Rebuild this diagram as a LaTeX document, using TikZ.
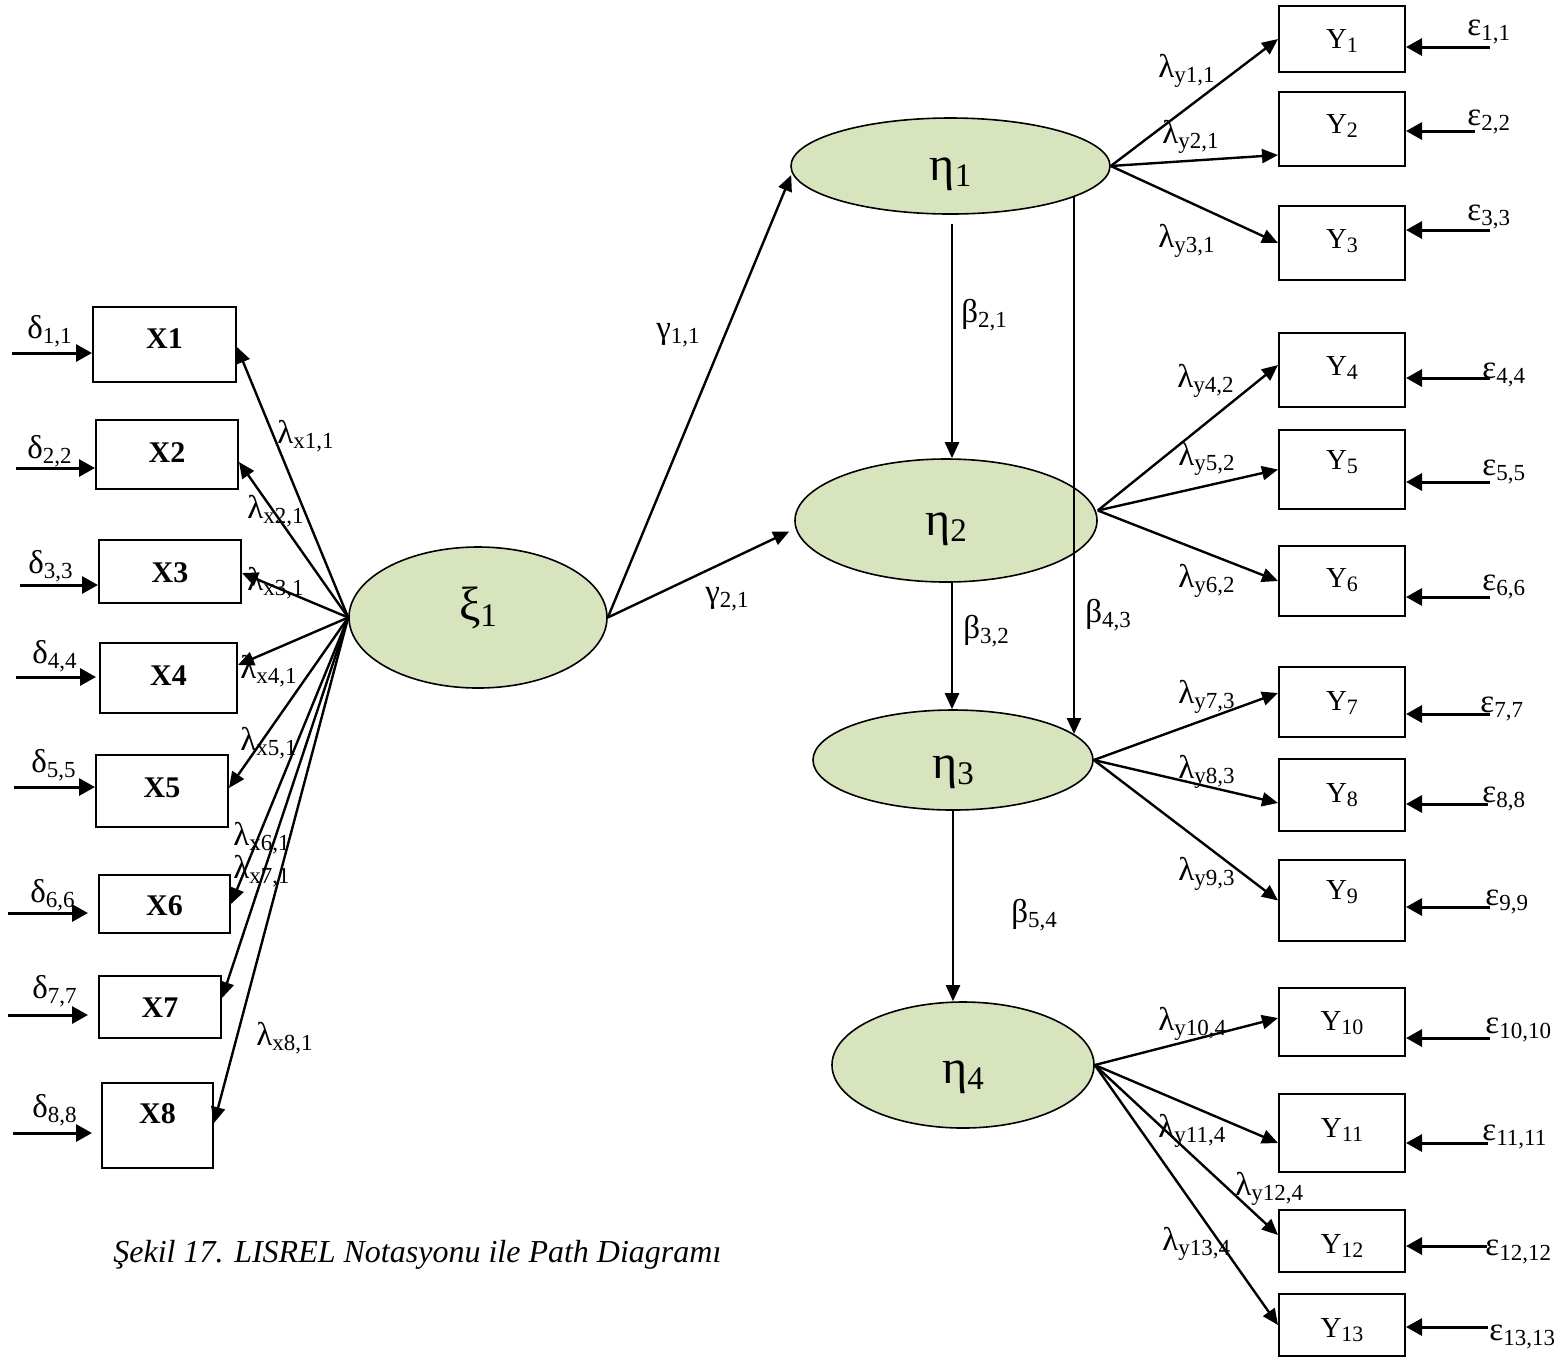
\documentclass[tikz,border=0pt]{standalone}
\usepackage{fontspec}
\setmainfont{Liberation Serif}
\usetikzlibrary{arrows.meta,calc,shapes.geometric}

\definecolor{latfill}{RGB}{215,228,189}

% symbol with a lowered index
\newcommand\pCoef[2]{{\fontsize{16.5pt}{17pt}\selectfont #1}\raisebox{-2.5pt}{\fontsize{11.5pt}{12pt}\selectfont #2}}
\newcommand\pLat[2]{{\fontsize{24pt}{25pt}\selectfont #1}\raisebox{-3pt}{\fontsize{16.5pt}{17pt}\selectfont #2}}
\newcommand\pInd[2]{{\fontsize{14.5pt}{15pt}\selectfont #1}\raisebox{-2pt}{\fontsize{11pt}{12pt}\selectfont #2}}
\newcommand\xname[1]{{\fontsize{15pt}{16pt}\selectfont\bfseries #1}}

% observed variable box: name, left, top, right, bottom, text baseline, text
\newcommand\obsbox[7]{%
  \pgfmathsetmacro\bw{(#4-#2)/2}%
  \pgfmathsetmacro\bh{(#6-#3)/2}%
  \pgfmathsetmacro\bd{(#5-#6)/2}%
  \pgfmathsetmacro\bx{(#2+#4)/2}%
  \node[obs, minimum width=\bw pt, text height=\bh pt, text depth=\bd pt] (#1) at (\bx,#6) {#7};}

\tikzset{
  obs/.style={draw, rectangle, line width=1pt, inner sep=0pt, anchor=base},
  lat/.style={draw, ellipse, line width=0.8pt, fill=latfill, inner sep=0pt, text depth=0pt},
  conn/.style={line width=1.2pt, -{Triangle[length=8pt,width=7pt]}},
  err/.style={line width=1.5pt, -{Triangle[length=8pt,width=8.5pt]}},
  lbl/.style={inner sep=0pt, anchor=base west},
}

\begin{document}
\begin{tikzpicture}[x=0.5pt,y=-0.5pt]
\useasboundingbox (0,0) rectangle (1558,1357);

% latent variables
\node[lat, minimum width=129pt, minimum height=70.5pt, text height=2.5pt] (xi) at (478,617.5) {\pLat{ξ}{1}};
\node[lat, minimum width=159.5pt, minimum height=48pt, text height=14pt] (eta1) at (950.5,166) {\pLat{η}{1}\hspace{6pt}};
\node[lat, minimum width=151pt, minimum height=61.5pt, text height=14.5pt] (eta2) at (946,520.5) {\pLat{η}{2}\hspace{11.5pt}};
\node[lat, minimum width=140pt, minimum height=50pt, text height=18pt] (eta3) at (953,760) {\pLat{η}{3}\hspace{11pt}};
\node[lat, minimum width=131pt, minimum height=63pt, text height=18pt] (eta4) at (963,1065) {\pLat{η}{4}\hspace{10pt}};

% exogenous indicators
\obsbox{X1}{93}{307}{236}{382}{348}{\xname{X1}}
\obsbox{X2}{96}{420}{238}{489}{462}{\xname{X2}}
\obsbox{X3}{99}{540}{241}{603}{582}{\xname{X3}}
\obsbox{X4}{100}{643}{237}{713}{685}{\xname{X4}}
\obsbox{X5}{96}{755}{228}{827}{797}{\xname{X5}}
\obsbox{X6}{99}{875}{230}{933}{915}{\xname{X6}}
\obsbox{X7}{99}{976}{221}{1038}{1017}{\xname{X7}}
\obsbox{X8}{102}{1083}{213}{1168}{1123}{\xname{X8}}

% endogenous indicators
\obsbox{Y1}{1279}{6}{1405}{72}{48}{\pInd{Y}{1}}
\obsbox{Y2}{1279}{92}{1405}{166}{133}{\pInd{Y}{2}}
\obsbox{Y3}{1279}{206}{1405}{280}{248}{\pInd{Y}{3}}
\obsbox{Y4}{1279}{333}{1405}{407}{375}{\pInd{Y}{4}}
\obsbox{Y5}{1279}{430}{1405}{509}{469}{\pInd{Y}{5}}
\obsbox{Y6}{1279}{546}{1405}{616}{587}{\pInd{Y}{6}}
\obsbox{Y7}{1279}{667}{1405}{737}{710}{\pInd{Y}{7}}
\obsbox{Y8}{1279}{759}{1405}{831}{802}{\pInd{Y}{8}}
\obsbox{Y9}{1279}{860}{1405}{941}{899}{\pInd{Y}{9}}
\obsbox{Y10}{1279}{988}{1405}{1056}{1030}{\pInd{Y}{10}}
\obsbox{Y11}{1279}{1094}{1405}{1172}{1137}{\pInd{Y}{11}}
\obsbox{Y12}{1279}{1210}{1405}{1272}{1253}{\pInd{Y}{12}}
\obsbox{Y13}{1279}{1294}{1405}{1356}{1337}{\pInd{Y}{13}}

% measurement errors of X
\node[lbl] (t-d1) at (27,338) {\pCoef{δ}{1,1}};
\node[lbl] (t-d2) at (27,458) {\pCoef{δ}{2,2}};
\node[lbl] (t-d3) at (28,573) {\pCoef{δ}{3,3}};
\node[lbl] (t-d4) at (32,663) {\pCoef{δ}{4,4}};
\node[lbl] (t-d5) at (31,772) {\pCoef{δ}{5,5}};
\node[lbl] (t-d6) at (30,902) {\pCoef{δ}{6,6}};
\node[lbl] (t-d7) at (32,998) {\pCoef{δ}{7,7}};
\node[lbl] (t-d8) at (32,1117) {\pCoef{δ}{8,8}};

% loadings of X
\node[lbl] (t-lx1) at (277,443) {\pCoef{λ}{x1,1}};
\node[lbl] (t-lx2) at (247,518) {\pCoef{λ}{x2,1}};
\node[lbl] (t-lx3) at (247,590) {\pCoef{λ}{x3,1}};
\node[lbl] (t-lx4) at (240,678) {\pCoef{λ}{x4,1}};
\node[lbl] (t-lx5) at (240,750) {\pCoef{λ}{x5,1}};
\node[lbl] (t-lx6) at (233,845) {\pCoef{λ}{x6,1}};
\node[lbl] (t-lx7) at (233,878) {\pCoef{λ}{x7,1}};
\node[lbl] (t-lx8) at (256,1045) {\pCoef{λ}{x8,1}};

% structural coefficients
\node[lbl] (t-g11) at (656,338) {\pCoef{γ}{1,1}};
\node[lbl] (t-g21) at (705,602) {\pCoef{γ}{2,1}};
\node[lbl] (t-b21) at (961,322) {\pCoef{β}{2,1}};
\node[lbl] (t-b32) at (963,638) {\pCoef{β}{3,2}};
\node[lbl] (t-b43) at (1085,622) {\pCoef{β}{4,3}};
\node[lbl] (t-b54) at (1011,922) {\pCoef{β}{5,4}};

% loadings of Y
\node[lbl] (t-ly1) at (1158,77) {\pCoef{λ}{y1,1}};
\node[lbl] (t-ly2) at (1162,143) {\pCoef{λ}{y2,1}};
\node[lbl] (t-ly3) at (1158,247) {\pCoef{λ}{y3,1}};
\node[lbl] (t-ly4) at (1177,387) {\pCoef{λ}{y4,2}};
\node[lbl] (t-ly5) at (1178,465) {\pCoef{λ}{y5,2}};
\node[lbl] (t-ly6) at (1178,587) {\pCoef{λ}{y6,2}};
\node[lbl] (t-ly7) at (1178,703) {\pCoef{λ}{y7,3}};
\node[lbl] (t-ly8) at (1178,778) {\pCoef{λ}{y8,3}};
\node[lbl] (t-ly9) at (1178,880) {\pCoef{λ}{y9,3}};
\node[lbl] (t-ly10) at (1158,1030) {\pCoef{λ}{y10,4}};
\node[lbl] (t-ly11) at (1158,1137) {\pCoef{λ}{y11,4}};
\node[lbl] (t-ly12) at (1235,1195) {\pCoef{λ}{y12,4}};
\node[lbl] (t-ly13) at (1162,1250) {\pCoef{λ}{y13,4}};

% measurement errors of Y
\node[lbl] (t-e1) at (1467,35) {\pCoef{ε}{1,1}};
\node[lbl] (t-e2) at (1467,125) {\pCoef{ε}{2,2}};
\node[lbl] (t-e3) at (1467,220) {\pCoef{ε}{3,3}};
\node[lbl] (t-e4) at (1482,378) {\pCoef{ε}{4,4}};
\node[lbl] (t-e5) at (1482,475) {\pCoef{ε}{5,5}};
\node[lbl] (t-e6) at (1482,590) {\pCoef{ε}{6,6}};
\node[lbl] (t-e7) at (1480,712) {\pCoef{ε}{7,7}};
\node[lbl] (t-e8) at (1482,802) {\pCoef{ε}{8,8}};
\node[lbl] (t-e9) at (1485,905) {\pCoef{ε}{9,9}};
\node[lbl] (t-e10) at (1485,1033) {\pCoef{ε}{10,10}};
\node[lbl] (t-e11) at (1482,1140) {\pCoef{ε}{11,11}};
\node[lbl] (t-e12) at (1485,1255) {\pCoef{ε}{12,12}};
\node[lbl] (t-e13) at (1489,1340) {\pCoef{ε}{13,13}};

% caption
\node[lbl] (cap) at (113,1262) {\fontsize{16pt}{19pt}\selectfont\itshape Şekil 17. LISREL Notasyonu ile Path Diagramı};

% error arrows into X
\coordinate (d1) at (12,353);
\coordinate (d2) at (16,468);
\coordinate (d3) at (20,585);
\coordinate (d4) at (16,677);
\coordinate (d5) at (14,787);
\coordinate (d6) at (8,913);
\coordinate (d7) at (8,1015);
\coordinate (d8) at (13,1133);
\draw[err] (d1) -- (d1 -| X1.west);
\draw[err] (d2) -- (d2 -| X2.west);
\draw[err] (d3) -- (d3 -| X3.west);
\draw[err, shorten >=1.5pt] (d4) -- (d4 -| X4.west);
\draw[err] (d5) -- (d5 -| X5.west);
\draw[err, shorten >=5pt] (d6) -- (d6 -| X6.west);
\draw[err, shorten >=5pt] (d7) -- (d7 -| X7.west);
\draw[err, shorten >=4.5pt] (d8) -- (d8 -| X8.west);

% loadings from xi to X
\draw[conn] (xi.west) -- ($(X1.east)+(0,2.5)$);
\draw[conn] (xi.west) -- ($(X2.east)+(0,7.5)$);
\draw[conn] (xi.west) -- ($(X3.east)+(0,1.5)$);
\draw[conn] (xi.west) -- ($(X4.east)+(0,-13)$);
\draw[conn] (xi.west) -- ($(X5.east)+(0,-3)$);
\draw[conn] (xi.west) -- (X6.east);
\draw[conn] (xi.west) -- ($(X7.east)+(0,-9)$);
\draw[conn] (xi.west) -- ($(X8.east)+(0,-2.5)$);

% structural paths
\draw[conn] (xi.east) -- ($(eta1.west)+(1,9)$);
\draw[conn] (xi.east) -- ($(eta2.west)+(-5,11)$);
\coordinate (b21s) at ($(eta1.south)+(1.5,9)$);
\draw[conn] (b21s) -- (b21s |- eta2.north);
\coordinate (b32s) at ($(eta2.south)+(6,0)$);
\draw[conn] (b32s) -- (b32s |- eta3.north);
\draw[conn] (eta3.south) -- (eta3.south |- eta4.north);
\draw[conn] ($(eta1.center)+(123.5,30)$) -- ($(eta3.center)+(121,-26)$);

% loadings from eta to Y
\draw[conn] (eta1.east) -- (Y1.west);
\draw[conn] (eta1.east) -- ($(Y2.west)+(0,26)$);
\draw[conn] (eta1.east) -- (Y3.west);
\coordinate (o2) at ($(eta2.east)+(0,-10)$);
\draw[conn] (o2) -- ($(Y4.west)+(0,-5)$);
\draw[conn] (o2) -- (Y5.west);
\draw[conn] (o2) -- (Y6.west);
\draw[conn] (eta3.east) -- ($(Y7.west)+(0,-9)$);
\draw[conn] (eta3.east) -- ($(Y8.west)+(0,8)$);
\draw[conn] (eta3.east) -- (Y9.west);
\draw[conn] (eta4.east) -- ($(Y10.west)+(0,-4)$);
\draw[conn] (eta4.east) -- ($(Y11.west)+(0,10)$);
\draw[conn] (eta4.east) -- ($(Y12.west)+(0,-6)$);
\draw[conn] (eta4.east) -- (Y13.west);

% error arrows into Y
\coordinate (e1) at (1490,47);
\coordinate (e2) at (1475,131);
\coordinate (e3) at (1490,230);
\coordinate (e4) at (1490,378);
\coordinate (e5) at (1490,482);
\coordinate (e6) at (1490,597);
\coordinate (e7) at (1490,714);
\coordinate (e8) at (1488,804);
\coordinate (e9) at (1490,907);
\coordinate (e10) at (1490,1038);
\coordinate (e11) at (1488,1143);
\coordinate (e12) at (1487,1246);
\coordinate (e13) at (1488,1327);
\foreach \i in {1,...,13}{
  \draw[err] (e\i) -- (e\i -| Y\i.east);
}
\end{tikzpicture}
\end{document}
